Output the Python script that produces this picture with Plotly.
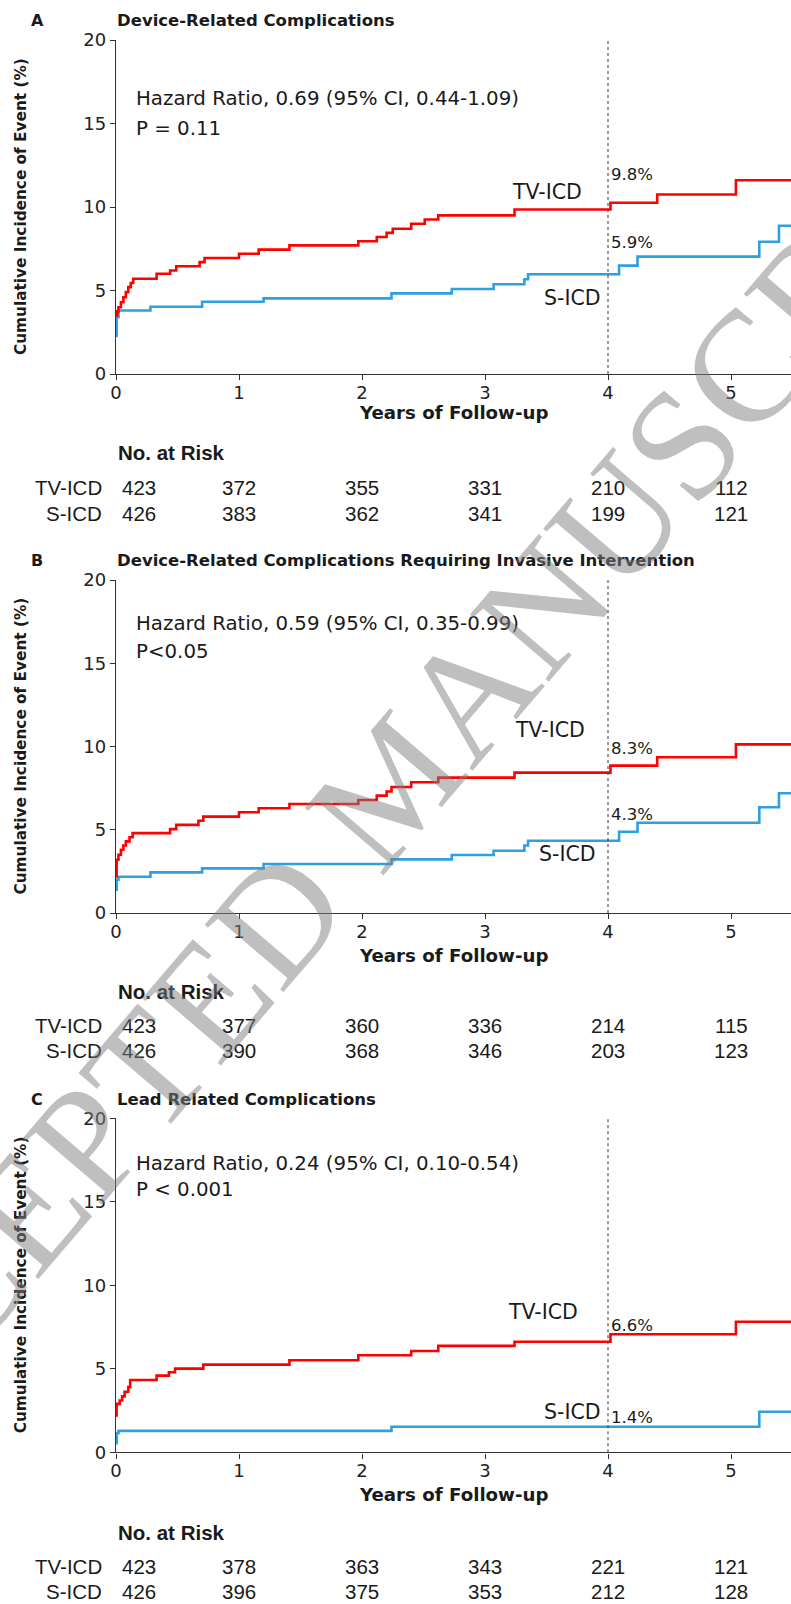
import plotly.graph_objects as go

W, H = 791, 1604

# ---------------- data ----------------
years = [0, 1, 2, 3, 4, 5]
panel_letters = ["A", "B", "C"]
panel_titles = [
    "Device-Related Complications",
    "Device-Related Complications Requiring Invasive Intervention",
    "Lead Related Complications",
]
hr_texts = [
    "Hazard Ratio, 0.69 (95% CI, 0.44-1.09)",
    "Hazard Ratio, 0.59 (95% CI, 0.35-0.99)",
    "Hazard Ratio, 0.24 (95% CI, 0.10-0.54)",
]
p_texts = ["P = 0.11", "P<0.05", "P < 0.001"]
pct_tv = ["9.8%", "8.3%", "6.6%"]
pct_s = ["5.9%", "4.3%", "1.4%"]

a_tv_t = [0, 0.01, 0.02, 0.04, 0.06, 0.08, 0.10, 0.12, 0.14, 0.33, 0.44, 0.49, 0.68, 0.72, 1.00, 1.16, 1.41,
          1.97, 2.12, 2.20, 2.25, 2.40, 2.51, 2.62, 3.24, 4.02, 4.40, 5.04, 5.60]
a_tv_y = [3.5, 3.75, 4.0, 4.3, 4.6, 4.9, 5.2, 5.45, 5.7, 6.0, 6.2, 6.45, 6.7, 6.95, 7.2, 7.45, 7.7,
          7.95, 8.2, 8.45, 8.7, 9.0, 9.25, 9.5, 9.85, 10.25, 10.75, 11.6, 11.6]
a_s_t = [0, 0.005, 0.02, 0.28, 0.70, 1.20, 2.24, 2.73, 3.07, 3.32, 3.35, 4.09, 4.24, 5.23, 5.39, 5.60]
a_s_y = [2.3, 3.4, 3.8, 4.03, 4.33, 4.53, 4.83, 5.09, 5.37, 5.67, 5.97, 6.49, 7.03, 7.92, 8.88, 8.88]

b_tv_t = [0, 0.005, 0.02, 0.04, 0.06, 0.08, 0.11, 0.135, 0.44, 0.49, 0.67, 0.71, 1.00, 1.16, 1.41, 1.97,
          2.12, 2.20, 2.24, 2.40, 2.62, 3.24, 4.02, 4.40, 5.04, 5.60]
b_tv_y = [2.2, 3.2, 3.5, 3.8, 4.05, 4.3, 4.55, 4.8, 5.04, 5.29, 5.54, 5.79, 6.05, 6.29, 6.55, 6.79,
          7.05, 7.3, 7.57, 7.85, 8.13, 8.43, 8.85, 9.35, 10.13, 10.13]
b_s_t = [0, 0.005, 0.02, 0.28, 0.70, 1.20, 2.24, 2.73, 3.07, 3.32, 3.35, 4.09, 4.24, 5.23, 5.39, 5.60]
b_s_y = [1.4, 2.0, 2.18, 2.44, 2.68, 2.94, 3.22, 3.48, 3.74, 4.05, 4.34, 4.88, 5.42, 6.35, 7.19, 7.19]

c_tv_t = [0, 0.005, 0.03, 0.05, 0.07, 0.10, 0.115, 0.33, 0.43, 0.48, 0.71, 1.41, 1.97, 2.40, 2.62, 3.24,
          4.02, 5.04, 5.60]
c_tv_y = [2.2, 2.9, 3.1, 3.35, 3.63, 3.9, 4.33, 4.59, 4.79, 5.01, 5.25, 5.51, 5.81, 6.07, 6.37, 6.62,
          7.07, 7.82, 7.82]
c_s_t = [0, 0.005, 0.02, 2.24, 5.23, 5.60]
c_s_y = [0.55, 1.14, 1.28, 1.53, 2.43, 2.43]

risk_tv = [
    [423, 372, 355, 331, 210, 112],
    [423, 377, 360, 336, 214, 115],
    [423, 378, 363, 343, 221, 121],
]
risk_s = [
    [426, 383, 362, 341, 199, 121],
    [426, 390, 368, 346, 203, 123],
    [426, 396, 375, 353, 212, 128],
]
group_names = ["TV-ICD", "S-ICD"]

curves_tv = [(a_tv_t, a_tv_y), (b_tv_t, b_tv_y), (c_tv_t, c_tv_y)]
curves_s = [(a_s_t, a_s_y), (b_s_t, b_s_y), (c_s_t, c_s_y)]

# ---------------- layout geometry (pixels) ----------------
X0_PX = 116
PX_PER_YEAR = 123.0
X_MAX = (W - X0_PX) / PX_PER_YEAR
plot_px = [(40, 374), (580, 913), (1118.3, 1452.3)]
title_py = [21, 560, 1099]
xtitle_py = [413, 955, 1494]
risk_head_py = [453, 991, 1532]
risk_tv_py = [488, 1025, 1566]
risk_s_py = [513, 1050, 1591]
label_pos = [
    dict(hr1=16.47, hr2=14.73, tvx=3.50, tvy=10.9, ptv=11.92, ps=7.90, sx=3.715, sy=4.55),
    dict(hr1=17.36, hr2=15.68, tvx=3.53, tvy=10.99, ptv=9.91, ps=5.89, sx=3.67, sy=3.54),
    dict(hr1=17.32, hr2=15.71, tvx=3.47, tvy=8.40, ptv=7.62, ps=2.11, sx=3.715, sy=2.41),
]

RED = "#ff0000"
BLUE = "#2e9fe0"
TXT = "#1a1a1a"
AX = "#333333"
FONT = "DejaVu Sans"
RFONT = "Liberation Sans, Arial, sans-serif"


def px2paper_x(px):
    return px / W


def py2paper(py):
    return 1 - py / H


fig = go.Figure()
annotations = []
shapes = []

for i in range(3):
    sfx = "" if i == 0 else str(i + 1)
    xa, ya = "x" + sfx, "y" + sfx
    top, bot = plot_px[i]

    fig.add_trace(go.Scatter(x=curves_s[i][0], y=curves_s[i][1], mode="lines", line_shape="hv",
                             line=dict(color=BLUE, width=2.6), xaxis=xa, yaxis=ya,
                             showlegend=False, hoverinfo="skip"))
    fig.add_trace(go.Scatter(x=curves_tv[i][0], y=curves_tv[i][1], mode="lines", line_shape="hv",
                             line=dict(color=RED, width=2.6), xaxis=xa, yaxis=ya,
                             showlegend=False, hoverinfo="skip"))

    axis_common = dict(showline=True, linecolor=AX, linewidth=1.4, ticks="outside", ticklen=5,
                       tickwidth=1.2, tickcolor=AX, showgrid=False, zeroline=False, automargin=False,
                       tickfont=dict(family=FONT, size=18, color="#222"))
    fig.update_layout(**{
        "xaxis" + sfx: dict(domain=[px2paper_x(X0_PX), 1], range=[0, X_MAX], tickvals=years,
                            anchor=ya, ticklabelstandoff=-3, **axis_common),
        "yaxis" + sfx: dict(domain=[py2paper(bot), py2paper(top)], range=[0, 20],
                            tickvals=[0, 5, 10, 15, 20], anchor=xa, **axis_common),
    })

    shapes.append(dict(type="line", xref=xa, yref=ya, x0=4, x1=4, y0=0, y1=20,
                       line=dict(color="#444", width=1.1, dash="dot")))

    lp = label_pos[i]
    annotations.append(dict(text="<b>%s</b>" % panel_letters[i], xref="paper", yref="paper",
                            x=px2paper_x(37), y=py2paper(title_py[i]), xanchor="center", yanchor="middle",
                            showarrow=False, font=dict(family=FONT, size=16, color=TXT)))
    annotations.append(dict(text="<b>%s</b>" % panel_titles[i], xref="paper", yref="paper",
                            x=px2paper_x(115), y=py2paper(title_py[i]), xanchor="left", yanchor="middle",
                            showarrow=False, font=dict(family=FONT, size=16.5, color=TXT)))
    annotations.append(dict(text=hr_texts[i], xref=xa, yref=ya, x=0.15, y=lp["hr1"], xanchor="left",
                            yanchor="middle", showarrow=False, font=dict(family=FONT, size=19.8, color=TXT)))
    annotations.append(dict(text=p_texts[i], xref=xa, yref=ya, x=0.15, y=lp["hr2"], xanchor="left",
                            yanchor="middle", showarrow=False, font=dict(family=FONT, size=19.8, color=TXT)))
    annotations.append(dict(text=group_names[0], xref=xa, yref=ya, x=lp["tvx"], y=lp["tvy"], xanchor="center",
                            yanchor="middle", showarrow=False, font=dict(family=FONT, size=20.5, color=TXT)))
    annotations.append(dict(text=group_names[1], xref=xa, yref=ya, x=lp["sx"], y=lp["sy"], xanchor="center",
                            yanchor="middle", showarrow=False, font=dict(family=FONT, size=20.5, color=TXT)))
    annotations.append(dict(text=pct_tv[i], xref=xa, yref=ya, x=4.01, y=lp["ptv"], xanchor="left",
                            yanchor="middle", showarrow=False, font=dict(family=FONT, size=16.5, color=TXT)))
    annotations.append(dict(text=pct_s[i], xref=xa, yref=ya, x=4.01, y=lp["ps"], xanchor="left",
                            yanchor="middle", showarrow=False, font=dict(family=FONT, size=16.5, color=TXT)))
    annotations.append(dict(text="<b>Years of Follow-up</b>", xref="paper", yref="paper",
                            x=px2paper_x((X0_PX + W) / 2), y=py2paper(xtitle_py[i]), xanchor="center",
                            yanchor="middle", showarrow=False, font=dict(family=FONT, size=18.2, color=TXT)))
    annotations.append(dict(text="<b>Cumulative Incidence of Event (%)</b>", xref="paper", yref="paper",
                            x=px2paper_x(21), y=py2paper((top + bot) / 2), xanchor="center", yanchor="middle",
                            textangle=-90, showarrow=False, font=dict(family=FONT, size=15.3, color=TXT)))
    annotations.append(dict(text="<b>No. at Risk</b>", xref="paper", yref="paper", x=px2paper_x(116),
                            y=py2paper(risk_head_py[i]), xanchor="left", yanchor="middle", showarrow=False,
                            font=dict(family=RFONT, size=20.5, color=TXT)))
    for name, row, py in [(group_names[0], risk_tv[i], risk_tv_py[i]),
                          (group_names[1], risk_s[i], risk_s_py[i])]:
        annotations.append(dict(text=name, xref="paper", yref="paper", x=px2paper_x(104), y=py2paper(py),
                                xanchor="right", yanchor="middle", showarrow=False,
                                font=dict(family=RFONT, size=20.5, color=TXT)))
        for j, (t, n) in enumerate(zip(years, row)):
            annotations.append(dict(text=str(n), xref=xa, yref="paper", x=t if j else 0.03, y=py2paper(py),
                                    xanchor="center" if j else "left", yanchor="middle", showarrow=False,
                                    font=dict(family=RFONT, size=20.5, color=TXT)))

annotations.append(dict(text="ACCEPTED MANUSCRIPT", xref="paper", yref="paper", x=px2paper_x(392),
                        y=py2paper(782), xanchor="center", yanchor="middle", textangle=-49.5, showarrow=False,
                        font=dict(family="Liberation Serif, serif", size=158, color="rgba(128,128,128,0.5)")))

fig.update_layout(width=W, height=H, margin=dict(l=0, r=0, t=0, b=0, pad=0, autoexpand=False),
                  plot_bgcolor="white", paper_bgcolor="white", annotations=annotations, shapes=shapes,
                  showlegend=False)

fig.write_html(
    "out.html",
    config={"displayModeBar": False, "responsive": False},
    post_script=(
        "document.documentElement.style.margin='0';document.documentElement.style.padding='0';"
        "document.body.style.margin='0';document.body.style.padding='0';"
    ),
)
